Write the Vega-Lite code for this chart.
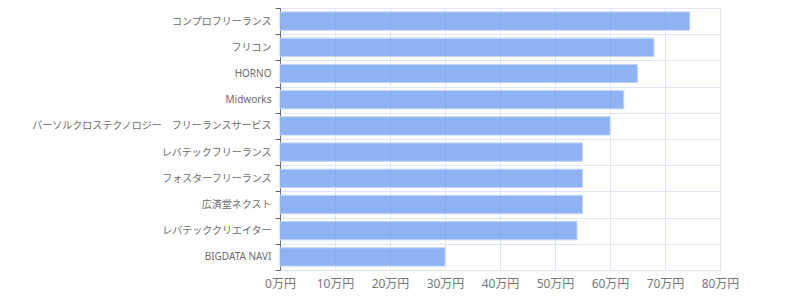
{
  "$schema": "https://vega.github.io/schema/vega-lite/v6.json",
  "autosize": {"type": "none"},
  "padding": {"left": 280, "top": 8, "right": 80, "bottom": 30},
  "width": 440,
  "height": 262,
  "background": "white",
  "config": {"view": {"stroke": null}},
  "data": {
    "values": [
      {"name": "コンプロフリーランス", "value": 74.5},
      {"name": "フリコン", "value": 68},
      {"name": "HORNO", "value": 65},
      {"name": "Midworks", "value": 62.5},
      {"name": "パーソルクロステクノロジー　フリーランスサービス", "value": 60},
      {"name": "レバテックフリーランス", "value": 55},
      {"name": "フォスターフリーランス", "value": 55},
      {"name": "広済堂ネクスト", "value": 55},
      {"name": "レバテッククリエイター", "value": 54},
      {"name": "BIGDATA NAVI", "value": 30}
    ]
  },
  "mark": {
    "type": "bar",
    "height": {"band": 0.7},
    "fill": "#6495ED",
    "fillOpacity": 0.72,
    "stroke": "#c3d4f6",
    "strokeWidth": 1
  },
  "encoding": {
    "y": {
      "field": "name",
      "type": "nominal",
      "sort": null,
      "title": null,
      "scale": {"paddingInner": 0, "paddingOuter": 0},
      "axis": {
        "tickBand": "extent",
        "grid": true,
        "gridColor": "#dfe5f3",
        "gridWidth": 1,
        "domainColor": "#5f6f8f",
        "tickColor": "#666666",
        "tickSize": 5,
        "labelFont": "Noto Sans, Noto Sans CJK JP",
        "labelFontSize": 10,
        "labelColor": "#6b6b6b",
        "labelPadding": 4,
        "labelLimit": 400
      }
    },
    "x": {
      "field": "value",
      "type": "quantitative",
      "title": null,
      "scale": {"domain": [0, 80], "nice": false},
      "axis": {
        "values": [0, 10, 20, 30, 40, 50, 60, 70, 80],
        "labelExpr": "datum.value + '万円'",
        "grid": true,
        "gridColor": "#dfe5f3",
        "domain": false,
        "ticks": false,
        "labelFont": "Noto Sans, Noto Sans CJK JP",
        "labelFontSize": 12,
        "labelColor": "#777777",
        "labelPadding": 8,
        "labelFlush": false
      }
    }
  }
}
